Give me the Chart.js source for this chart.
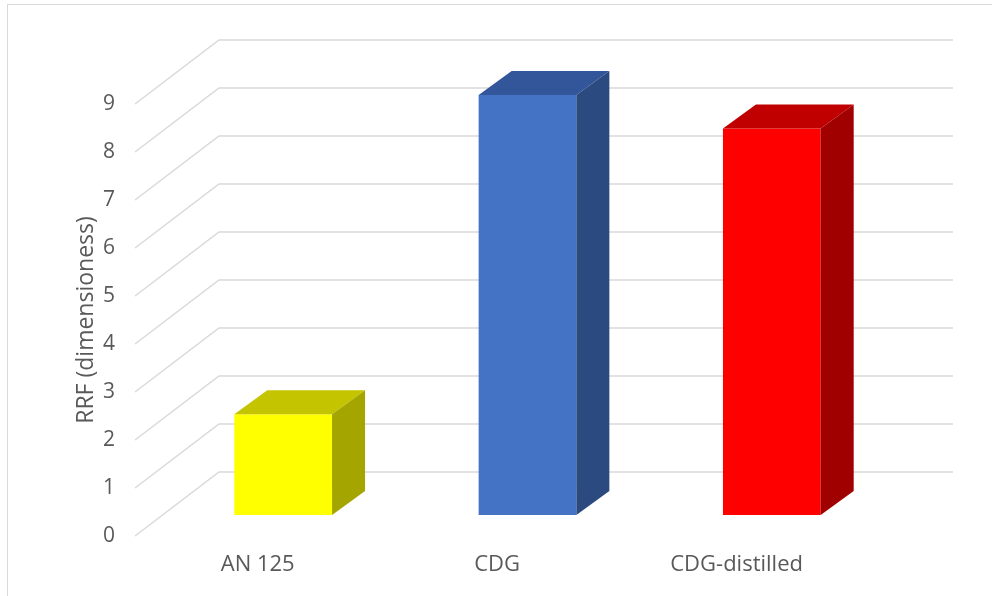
<!DOCTYPE html>
<html>
<head>
<meta charset="utf-8">
<script src="https://cdn.jsdelivr.net/npm/chart.js@4"></script>
<style>
  html, body { margin: 0; padding: 0; background: #fff; overflow: hidden; }
  #wrap { position: relative; width: 992px; height: 596px; }
  #frame { position: absolute; left: 7px; top: 4px; width: 1000px; height: 1000px; border: 1px solid #d9d9d9; }
  canvas { position: absolute; left: 0; top: 0; }
</style>
</head>
<body>
<div id="wrap">
  <div id="frame"></div>
  <canvas id="rrf-chart" width="992" height="596"></canvas>
</div>
<script>
// ------- Data ---------------------------------------------------------------
const categories = ['AN 125', 'CDG', 'CDG-distilled'];
const rrfValues  = [2.1, 8.75, 8.05];
const yTicks     = [0, 1, 2, 3, 4, 5, 6, 7, 8, 9];

// front / top / side shades for each column
const frontColours = ['#ffff00', '#4472c4', '#ff0000'];
const topColours   = ['#c4c400', '#33569a', '#c00000'];
const sideColours  = ['#a5a500', '#2b4a80', '#a00000'];

// ------- 3D look ------------------------------------------------------------
const FLOOR_DX = 84, FLOOR_DY = -64;   // front edge of floor -> back wall
const BAR_SHIFT = { x: 26, y: -21 };   // columns sit part way into the floor
const BAR_DX = 33, BAR_DY = -24;       // depth of each column
const GRID = '#d9d9d9';
const TEXT = '#595959';

const fake3d = {
  id: 'fake3d',
  beforeDatasetsDraw (chart) {
    const { ctx, chartArea: a, scales: { y } } = chart;
    ctx.save();
    ctx.strokeStyle = GRID;
    ctx.lineWidth = 1.5;
    yTicks.forEach(v => {
      const py = y.getPixelForValue(v);
      ctx.beginPath();
      ctx.moveTo(a.left, py);
      ctx.lineTo(a.left + FLOOR_DX, py + FLOOR_DY);
      ctx.lineTo(a.right + FLOOR_DX + 1, py + FLOOR_DY);
      ctx.stroke();
    });
    ctx.restore();
    // push the columns back into the floor
    ctx.save();
    ctx.translate(BAR_SHIFT.x, BAR_SHIFT.y);
  },
  afterDatasetsDraw (chart) {
    const { ctx } = chart;
    chart.getDatasetMeta(0).data.forEach((bar, i) => {
      const { x, y, base, width } = bar.getProps(['x', 'y', 'base', 'width'], true);
      const l = x - width / 2, r = x + width / 2;
      // top
      ctx.fillStyle = topColours[i];
      ctx.beginPath();
      ctx.moveTo(l, y);
      ctx.lineTo(l + BAR_DX, y + BAR_DY);
      ctx.lineTo(r + BAR_DX, y + BAR_DY);
      ctx.lineTo(r, y);
      ctx.closePath();
      ctx.fill();
      // right side
      ctx.fillStyle = sideColours[i];
      ctx.beginPath();
      ctx.moveTo(r, y);
      ctx.lineTo(r + BAR_DX, y + BAR_DY);
      ctx.lineTo(r + BAR_DX, base + BAR_DY);
      ctx.lineTo(r, base);
      ctx.closePath();
      ctx.fill();
    });
    ctx.restore();
  },
  afterDraw (chart) {
    // category labels along the front edge of the floor
    const { ctx, chartArea: a, scales: { x } } = chart;
    ctx.save();
    ctx.font = '22px "Open Sans"';
    ctx.fillStyle = TEXT;
    ctx.textAlign = 'center';
    ctx.textBaseline = 'middle';
    categories.forEach((c, i) => {
      const px = x.getPixelForValue(i);
      ctx.fillText(c, a.left + 3 + (px - a.left) * 0.98, a.bottom + 29);
    });
    ctx.restore();
  }
};

new Chart(document.getElementById('rrf-chart'), {
  type: 'bar',
  data: {
    labels: categories,
    datasets: [{
      data: rrfValues,
      backgroundColor: frontColours,
      borderWidth: 0,
      categoryPercentage: 1,
      barPercentage: 0.4,
      clip: false
    }]
  },
  options: {
    responsive: false,
    animation: false,
    layout: { padding: { left: 0, top: 104, right: 124, bottom: 60 } },
    plugins: { legend: { display: false }, tooltip: { enabled: false } },
    scales: {
      x: { display: false },
      y: {
        min: 0,
        max: 9,
        afterFit (scale) { scale.width = 135; },
        afterBuildTicks (scale) { scale.ticks = yTicks.map(v => ({ value: v })); },
        grid: { display: false, drawTicks: false },
        border: { display: false },
        ticks: { padding: 20, color: TEXT, font: { family: 'Open Sans', size: 21 } },
        title: {
          display: true,
          text: 'RRF (dimensioness)',
          color: TEXT,
          font: { family: 'Open Sans', size: 23 },
          padding: { top: 73, bottom: 0 }
        }
      }
    }
  },
  plugins: [fake3d]
});
</script>
</body>
</html>
